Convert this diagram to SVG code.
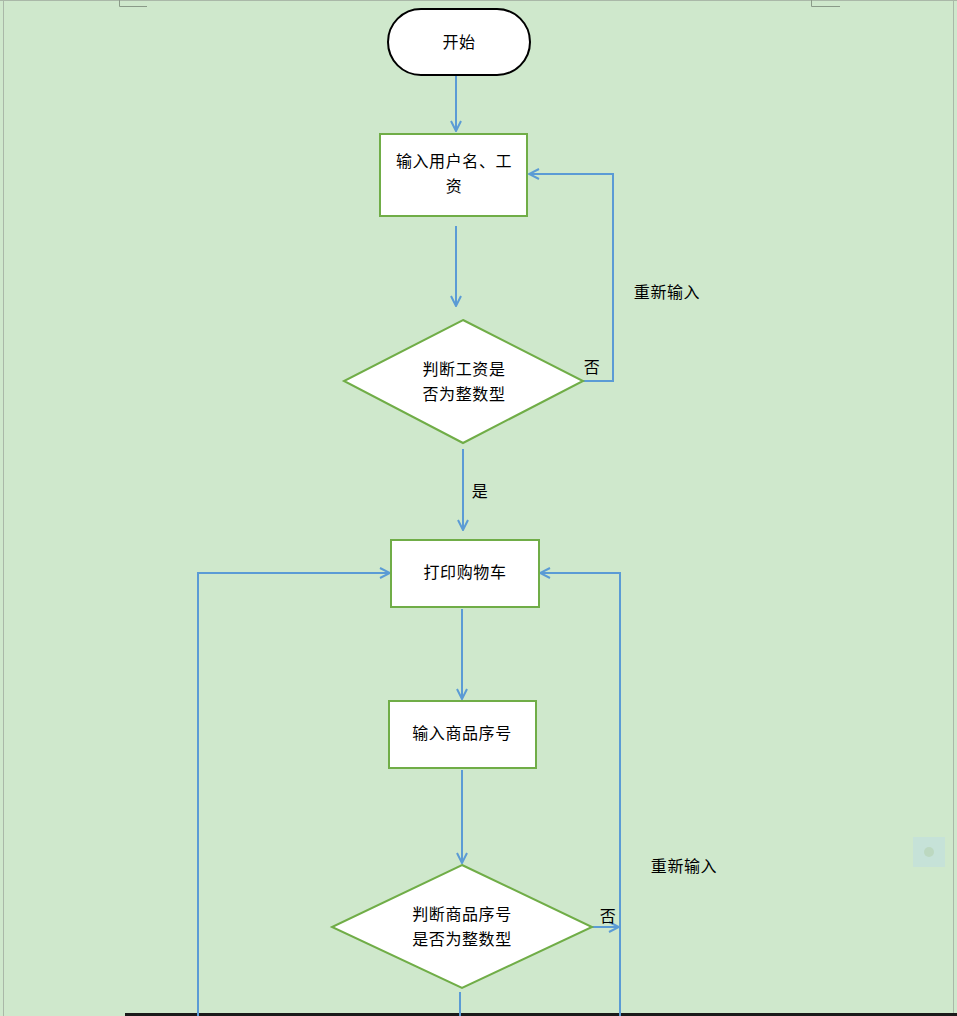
<svg xmlns="http://www.w3.org/2000/svg" width="957" height="1016" viewBox="0 0 957 1016">
<style>
.node{fill:#ffffff;stroke:#70ad47;stroke-width:2}
.term{fill:#ffffff;stroke:#000000;stroke-width:2}
.conn{fill:none;stroke:#5b9bd5;stroke-width:2}
.t{font-family:"Noto Sans CJK SC","Liberation Sans",sans-serif;font-size:16px;letter-spacing:0.6px;fill:#000000;text-anchor:middle;dominant-baseline:central}
</style>
<defs>
<marker id="ah" viewBox="0 0 12 12" refX="11" refY="6" markerWidth="12" markerHeight="12" markerUnits="userSpaceOnUse" orient="auto">
<path d="M1,1 L11,6 L1,11" fill="none" stroke="#5b9bd5" stroke-width="2"/>
</marker>
</defs>
<rect x="0" y="0" width="957" height="1016" fill="#cfe8cc"/>
<line x1="0" y1="0.5" x2="957" y2="0.5" stroke="#aab8a8" stroke-width="1"/>
<line x1="3.5" y1="0" x2="3.5" y2="1016" stroke="#aab8a8" stroke-width="1"/>
<line x1="953.5" y1="0" x2="953.5" y2="1016" stroke="#aab8a8" stroke-width="1"/>
<path d="M119.5,0 V6.5 H147" fill="none" stroke="#8a9a88" stroke-width="1"/>
<path d="M811.5,0 V6.5 H840" fill="none" stroke="#8a9a88" stroke-width="1"/>
<rect x="913" y="837" width="32" height="30" fill="#c6e2d8"/>
<circle cx="929" cy="852" r="5" fill="#bcd8c0"/>
<rect x="125" y="1013" width="832" height="3" fill="#1a1a1a"/>
<g id="connectors">
<line class="conn" x1="456" y1="75" x2="456" y2="131" marker-end="url(#ah)"/>
<line class="conn" x1="456" y1="226" x2="456" y2="306" marker-end="url(#ah)"/>
<polyline class="conn" points="583,381 613,381 613,174 529,174" marker-end="url(#ah)"/>
<line class="conn" x1="463" y1="449" x2="463" y2="530" marker-end="url(#ah)"/>
<polyline class="conn" points="198,1016 198,573 390,573" marker-end="url(#ah)"/>
<polyline class="conn" points="620,1016 620,573 540,573" marker-end="url(#ah)"/>
<line class="conn" x1="462" y1="609" x2="462" y2="699" marker-end="url(#ah)"/>
<line class="conn" x1="462" y1="770" x2="462" y2="863" marker-end="url(#ah)"/>
<line class="conn" x1="592" y1="927" x2="619" y2="927" marker-end="url(#ah)"/>
<line class="conn" x1="460" y1="992" x2="460" y2="1016"/>
<text class="t" x="592" y="366">否</text>
<text class="t" x="667" y="291">重新输入</text>
<text class="t" x="480" y="490">是</text>
<text class="t" x="608" y="915">否</text>
<text class="t" x="684" y="865">重新输入</text>
</g>
<g id="start">
<rect class="term" x="388" y="9" width="142" height="66" rx="33" ry="33"/>
<text class="t" x="459" y="41">开始</text>
</g>
<g id="input-user">
<rect class="node" x="380" y="134" width="147" height="82"/>
<text class="t" x="454" y="160">输入用户名、工</text>
<text class="t" x="454" y="185">资</text>
</g>
<g id="check-salary">
<polygon class="node" points="463,320 583,381 463,443 344,381"/>
<text class="t" x="464" y="368">判断工资是</text>
<text class="t" x="464" y="393">否为整数型</text>
</g>
<g id="print-cart">
<rect class="node" x="391" y="540" width="148" height="67"/>
<text class="t" x="465" y="571">打印购物车</text>
</g>
<g id="input-item">
<rect class="node" x="389" y="701" width="147" height="67"/>
<text class="t" x="462" y="732">输入商品序号</text>
</g>
<g id="check-item">
<polygon class="node" points="462,865 592,927 462,988 332,927"/>
<text class="t" x="462" y="913">判断商品序号</text>
<text class="t" x="462" y="938">是否为整数型</text>
</g>
</svg>
